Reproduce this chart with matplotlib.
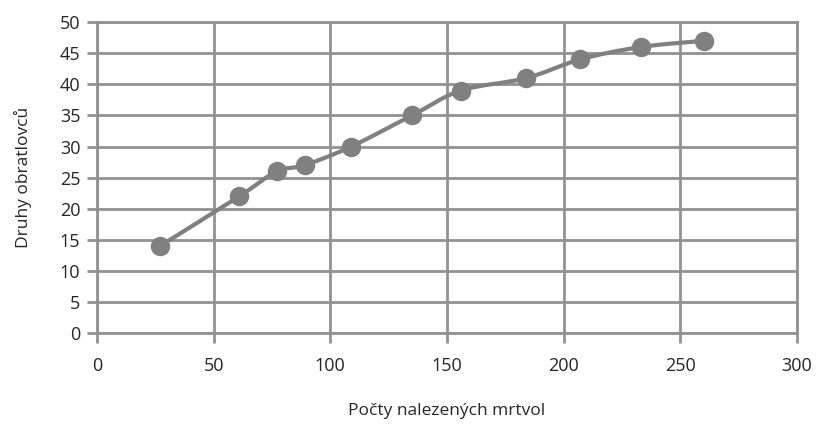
import matplotlib
matplotlib.use("Agg")
import matplotlib.pyplot as plt
from matplotlib.path import Path
from matplotlib.patches import PathPatch
import numpy as np

# Počty nalezených mrtvol vs. druhy obratlovců
carcasses = [27, 61, 77, 89, 109, 135, 156, 184, 207, 233, 260]
species = [14, 22, 26, 27, 30, 35, 39, 41, 44, 46, 47]

x_ticks = [0, 50, 100, 150, 200, 250, 300]
y_ticks = [0, 5, 10, 15, 20, 25, 30, 35, 40, 45, 50]

GRID = "#929292"
SERIES = "#808080"
TEXT = "#262626"

plt.rcParams["font.family"] = ["Open Sans", "DejaVu Sans"]

fig = plt.figure(figsize=(8.19, 4.26), dpi=100)
ax = fig.add_axes([0.1184, 0.218, 0.973 - 0.1184, 0.948 - 0.218])

ax.set_xlim(0, 300)
ax.set_ylim(0, 50)
ax.set_xticks(x_ticks)
ax.set_yticks(y_ticks)
ax.grid(True, color=GRID, linewidth=2)
ax.set_axisbelow(True)
for s in ax.spines.values():
    s.set_color(GRID)
    s.set_linewidth(2)
ax.tick_params(axis="both", colors=GRID, width=2, length=7,
               labelcolor=TEXT, labelsize=13)
ax.tick_params(axis="x", pad=10)
ax.tick_params(axis="y", pad=5)

# Smoothed connecting line (Catmull-Rom as cubic Bezier segments)
pts = np.column_stack([carcasses, species]).astype(float)
verts = [tuple(pts[0])]
codes = [Path.MOVETO]
n = len(pts)
for i in range(n - 1):
    p0 = pts[i - 1] if i > 0 else pts[i]
    p1 = pts[i]
    p2 = pts[i + 1]
    p3 = pts[i + 2] if i + 2 < n else pts[i + 1]
    c1 = p1 + (p2 - p0) / 6.0
    c2 = p2 - (p3 - p1) / 6.0
    verts += [tuple(c1), tuple(c2), tuple(p2)]
    codes += [Path.CURVE4] * 3
ax.add_patch(PathPatch(Path(verts, codes), facecolor="none",
                       edgecolor=SERIES, linewidth=3, zorder=3,
                       capstyle="round", joinstyle="round"))

ax.plot(carcasses, species, linestyle="none", marker="o", markersize=13,
        color=SERIES, zorder=4, clip_on=False)

ax.set_xlabel("Počty nalezených mrtvol", fontsize=12.5, color=TEXT, labelpad=20)
ax.set_ylabel("Druhy obratlovců", fontsize=12.5, color=TEXT, labelpad=20)

fig.savefig("out.png", dpi=100)
